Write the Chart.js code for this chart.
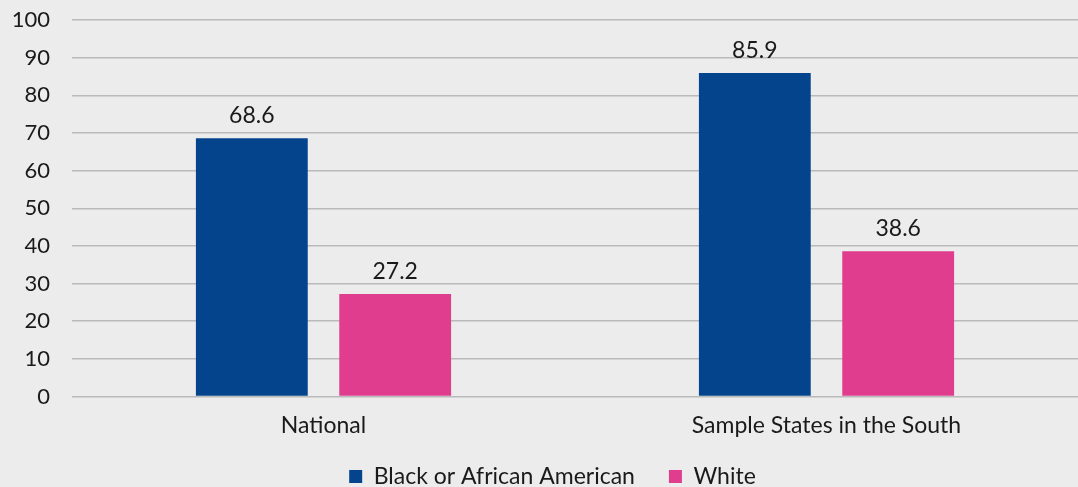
<!DOCTYPE html>
<html>
<head>
<meta charset="utf-8">
<script src="https://cdn.jsdelivr.net/npm/chart.js@4/dist/chart.umd.min.js"></script>
<style>
  html, body { margin: 0; padding: 0; background: #ececec; overflow: hidden; }
  #wrap { width: 1078px; height: 498px; position: relative; }
</style>
</head>
<body>
<div id="wrap"><canvas id="chart"></canvas></div>
<script>
const categories = ['National', 'Sample States in the South'];
const blackValues = [68.6, 85.9];
const whiteValues = [27.2, 38.6];
const seriesNames = ['Black or African American', 'White'];
const yTicks = [0, 10, 20, 30, 40, 50, 60, 70, 80, 90, 100];

const FONT = 'Lato, "Open Sans", sans-serif';
const TEXT = '#1a1a1a';

// Writes each bar's value just above it
const valueLabels = {
  id: 'valueLabels',
  afterDatasetsDraw(chart) {
    const ctx = chart.ctx;
    ctx.save();
    ctx.font = '23px ' + FONT;
    ctx.fillStyle = TEXT;
    ctx.textAlign = 'center';
    ctx.textBaseline = 'middle';
    chart.data.datasets.forEach((ds, i) => {
      chart.getDatasetMeta(i).data.forEach((bar, j) => {
        ctx.fillText(ds.data[j].toFixed(1), bar.x, bar.y - 23);
      });
    });
    ctx.restore();
  }
};

// The category axis is packed tightly against the legend; give its labels
// room to draw below that packed height, and nudge the legend a bit right.
const layoutTweaks = {
  id: 'layoutTweaks',
  afterLayout(chart) {
    chart.scales.x.bottom += 14;
    if (chart.legend) {
      chart.legend.left += 8;
      chart.legend.right += 8;
    }
  }
};

new Chart(document.getElementById('chart'), {
  type: 'bar',
  data: {
    labels: categories,
    datasets: [
      { label: seriesNames[0], data: blackValues, backgroundColor: '#03448c' },
      { label: seriesNames[1], data: whiteValues, backgroundColor: '#e03d8f' }
    ]
  },
  options: {
    responsive: true,
    maintainAspectRatio: false,
    animation: false,
    categoryPercentage: 0.57,
    barPercentage: 0.78,
    layout: { padding: { top: 20, right: 0, left: 11, bottom: 0 } },
    plugins: {
      tooltip: { enabled: false },
      legend: {
        position: 'bottom',
        labels: {
          font: { family: FONT, size: 23 },
          color: TEXT,
          boxWidth: 13,
          boxHeight: 13,
          padding: 34
        }
      }
    },
    scales: {
      x: {
        grid: { display: false },
        border: { display: false },
        ticks: { font: { family: FONT, size: 23 }, color: TEXT, padding: 7 },
        afterFit(scale) {
          scale.height = 34.5;
          scale.paddingLeft = 0;
          scale.paddingRight = 0;
        }
      },
      y: {
        min: 0,
        max: 100,
        afterBuildTicks(axis) { axis.ticks = yTicks.map(v => ({ value: v })); },
        grid: { color: '#bababa', lineWidth: 1.5, drawTicks: false },
        border: { display: false },
        ticks: { font: { family: FONT, size: 22 }, color: TEXT, padding: 22 },
        afterFit(scale) {
          scale.width = 61;
          scale.paddingTop = 0;
          scale.paddingBottom = 0;
        }
      }
    }
  },
  plugins: [valueLabels, layoutTweaks]
});
</script>
</body>
</html>
